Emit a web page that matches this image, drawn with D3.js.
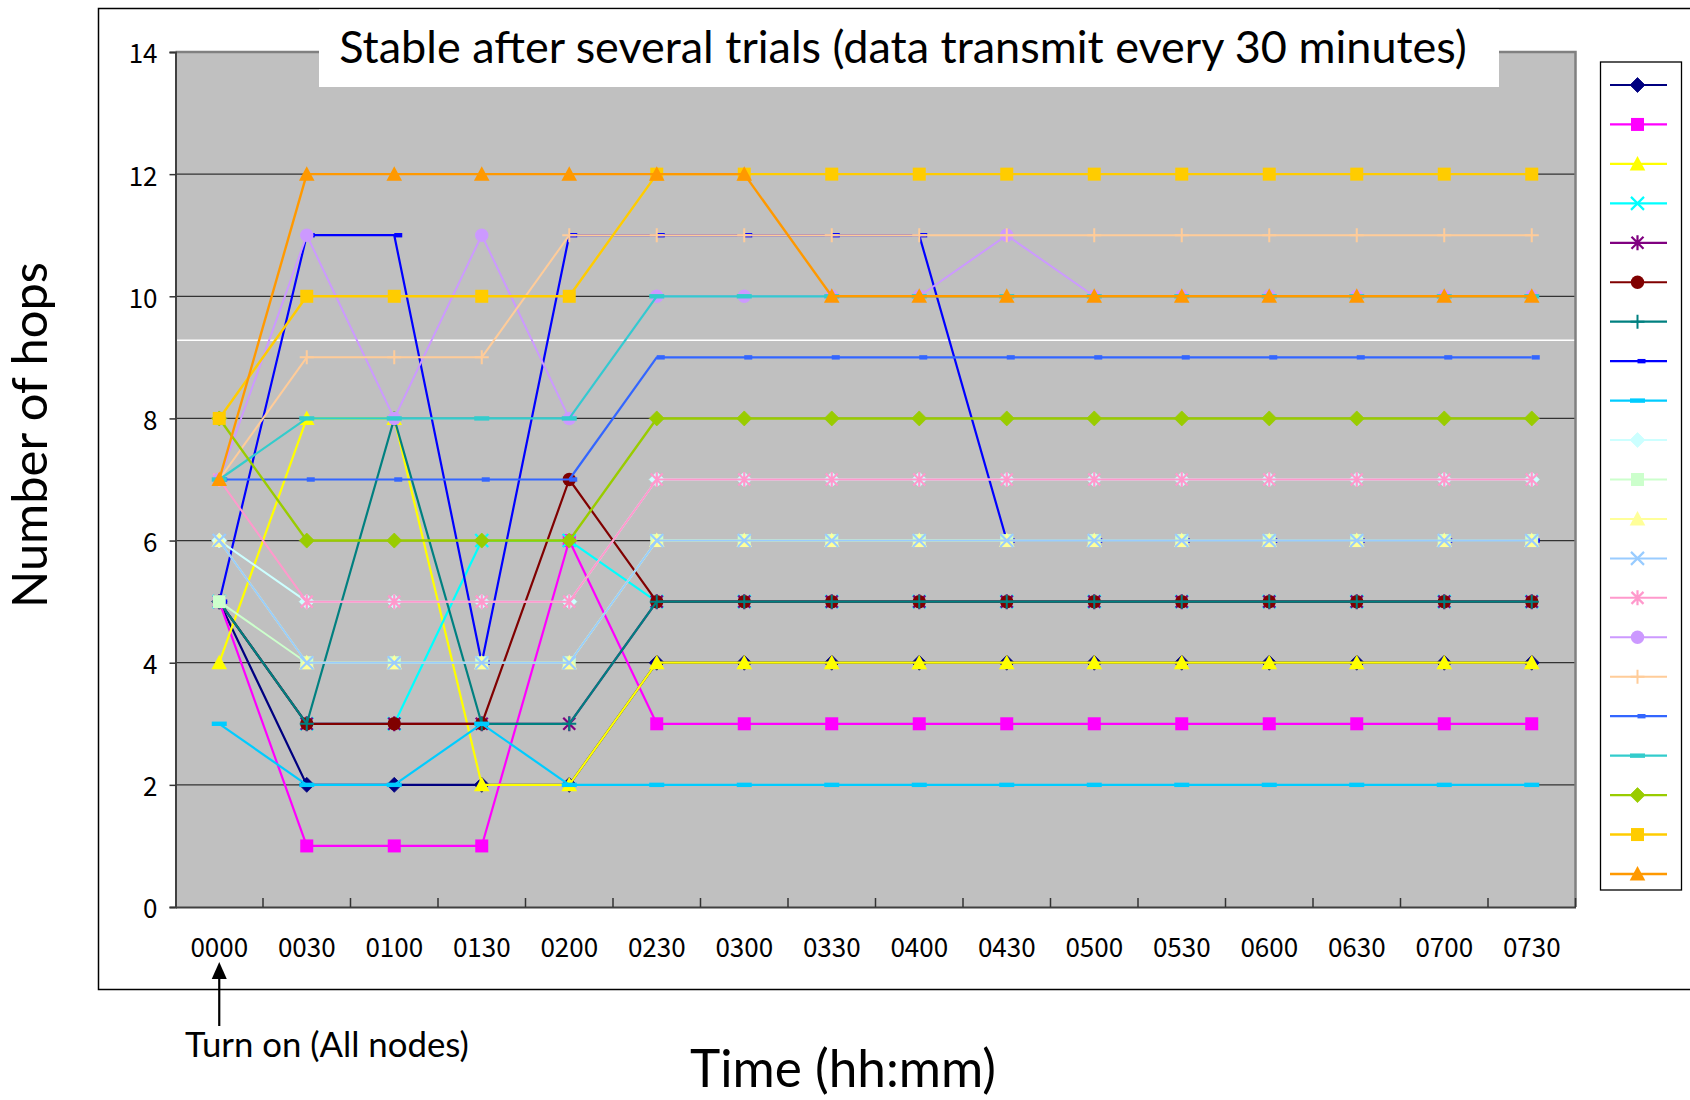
<!DOCTYPE html>
<html>
<head>
<meta charset="utf-8">
<script src="https://cdn.jsdelivr.net/npm/d3@7"></script>
<style>
  html, body { margin: 0; padding: 0; background: #ffffff; }
  svg { display: block; }
</style>
</head>
<body>
<svg id="chart" width="1690" height="1100"></svg>
<script>
// ---------------- DATA ----------------
const times = ["0000","0030","0100","0130","0200","0230","0300","0330","0400","0430","0500","0530","0600","0630","0700","0730"];
const yTicks = [0, 2, 4, 6, 8, 10, 12, 14];

const node01 = [5,2,2,2,2,4,4,4,4,4,4,4,4,4,4,4];
const node02 = [5,1,1,1,6,3,3,3,3,3,3,3,3,3,3,3];
const node03 = [4,8,8,2,2,4,4,4,4,4,4,4,4,4,4,4];
const node04 = [5,3,3,6,6,5,5,5,5,5,5,5,5,5,5,5];
const node05 = [5,3,3,3,3,5,5,5,5,5,5,5,5,5,5,5];
const node06 = [5,3,3,3,7,5,5,5,5,5,5,5,5,5,5,5];
const node07 = [5,3,8,3,3,5,5,5,5,5,5,5,5,5,5,5];
const node08 = [5,11,11,4,11,11,11,11,11,6,6,6,6,6,6,6];
const node09 = [3,2,2,3,2,2,2,2,2,2,2,2,2,2,2,2];
const node10 = [6,5,5,5,5,7,7,7,7,7,7,7,7,7,7,7];
const node11 = [5,4,4,4,4,6,6,6,6,6,6,6,6,6,6,6];
const node12 = [6,4,4,4,4,6,6,6,6,6,6,6,6,6,6,6];
const node13 = [6,4,4,4,4,6,6,6,6,6,6,6,6,6,6,6];
const node14 = [7,5,5,5,5,7,7,7,7,7,7,7,7,7,7,7];
const node15 = [7,11,8,11,8,10,10,10,10,11,10,10,10,10,10,10];
const node16 = [7,9,9,9,11,11,11,11,11,11,11,11,11,11,11,11];
const node17 = [7,7,7,7,7,9,9,9,9,9,9,9,9,9,9,9];
const node18 = [7,8,8,8,8,10,10,10,10,10,10,10,10,10,10,10];
const node19 = [8,6,6,6,6,8,8,8,8,8,8,8,8,8,8,8];
const node20 = [8,10,10,10,10,12,12,12,12,12,12,12,12,12,12,12];
const node21 = [7,12,12,12,12,12,12,10,10,10,10,10,10,10,10,10];

const whiteRefValue = 9.28;   // thin white horizontal line across the plot

const titleText = "Stable after several trials (data transmit every 30 minutes)";
const yTitle = "Number of hops";
const xTitle = "Time (hh:mm)";
const noteText = "Turn on (All nodes)";

// ---------------- STYLES ----------------
const seriesValues = [node01,node02,node03,node04,node05,node06,node07,node08,node09,node10,
                      node11,node12,node13,node14,node15,node16,node17,node18,node19,node20,node21];
const seriesColors = ["#000080","#FF00FF","#FFFF00","#00FFFF","#800080","#800000","#008080","#0000FF","#00CCFF",
                      "#CCFFFF","#CCFFCC","#FFFF99","#99CCFF","#FF99CC","#CC99FF","#FFCC99","#3366FF","#33CCCC",
                      "#99CC00","#FFCC00","#FF9900"];
const seriesMarkers = ["diamond","square","triangle","x","star","circle","plus","dash","longdash",
                       "diamond","square","triangle","x","star","circle","plus","dash","longdash",
                       "diamond","square","triangle"];
const seriesWidths = [2.2,2.2,2.2,2.2,2.2,2.2,2.2,2.2,2.2, 2,2,2,2,2,2,2, 2.2,2.2,2.4,2.4,2.4];

// ---------------- LAYOUT ----------------
const svg = d3.select("#chart");
const plot = {left: 175.5, right: 1575.5, top: 52, bottom: 907};

const x = d3.scaleBand().domain(times).range([plot.left, plot.right]).padding(0);
const cx = d => x(d) + x.bandwidth() / 2;
const y = d3.scaleLinear().domain([0, 14]).range([plot.bottom, plot.top]);

function fitText(sel, target) {
  const w = sel.node().getComputedTextLength();
  const fs = parseFloat(sel.attr("font-size"));
  sel.attr("font-size", fs * target / w);
}

// outer frame
svg.append("rect")
  .attr("x", 98.5).attr("y", 8.5)
  .attr("width", 1700).attr("height", 981)
  .attr("fill", "#ffffff").attr("stroke", "#000").attr("stroke-width", 1.5);

// plot background
svg.append("rect")
  .attr("x", plot.left).attr("y", plot.top)
  .attr("width", plot.right - plot.left).attr("height", plot.bottom - plot.top)
  .attr("fill", "#C0C0C0");

// gridlines
svg.append("g").selectAll("line")
  .data(yTicks.filter(v => v > 0 && v < 14))
  .join("line")
  .attr("x1", plot.left).attr("x2", plot.right)
  .attr("y1", d => y(d)).attr("y2", d => y(d))
  .attr("stroke", "#333").attr("stroke-width", 1.3);

// white reference line
svg.append("line")
  .attr("x1", plot.left).attr("x2", plot.right)
  .attr("y1", y(whiteRefValue)).attr("y2", y(whiteRefValue))
  .attr("stroke", "#ffffff").attr("stroke-width", 1.5);

// plot border (top/right gray)
svg.append("path")
  .attr("d", `M${plot.left},${plot.top}H${plot.right}V${plot.bottom}`)
  .attr("fill", "none").attr("stroke", "#808080").attr("stroke-width", 2.5);

// y axis
const yAxis = d3.axisLeft(y).tickValues(yTicks).tickSize(6).tickPadding(12).tickFormat(d3.format("d"));
const gy = svg.append("g").attr("transform", `translate(${plot.left},0)`).call(yAxis);
gy.select(".domain").attr("stroke", "#404040").attr("stroke-width", 2);
gy.selectAll(".tick line").attr("stroke", "#333").attr("stroke-width", 1.5);
gy.selectAll(".tick text")
  .attr("font-family", "'Noto Sans CJK JP', 'Liberation Sans', sans-serif")
  .attr("font-size", 26).attr("fill", "#000").attr("dy", "0.42em");

// x axis: labels at category centres, ticks at category boundaries
const xAxis = d3.axisBottom(x).tickSize(0).tickPadding(32);
const gx = svg.append("g").attr("transform", `translate(0,${plot.bottom})`).call(xAxis);
gx.select(".domain").attr("stroke", "#404040").attr("stroke-width", 2);
gx.selectAll(".tick text")
  .attr("font-family", "'Noto Sans CJK JP', 'Liberation Sans', sans-serif")
  .attr("font-size", 26).attr("fill", "#000");
svg.append("g").selectAll("line")
  .data(times.slice(1).concat(["__end"]))
  .join("line")
  .attr("x1", d => d === "__end" ? plot.right : x(d))
  .attr("x2", d => d === "__end" ? plot.right : x(d))
  .attr("y1", plot.bottom).attr("y2", plot.bottom - 9)
  .attr("stroke", "#333").attr("stroke-width", 1.5);

// marker drawing
function drawMarker(g, type, color) {
  switch (type) {
    case "diamond":
      g.append("path").attr("d", "M0,-7.5L7.5,0L0,7.5L-7.5,0Z").attr("fill", color).attr("stroke", color).attr("stroke-width", 0.8); break;
    case "square":
      g.append("rect").attr("x", -6.5).attr("y", -6.5).attr("width", 13).attr("height", 13).attr("fill", color); break;
    case "triangle":
      g.append("path").attr("d", "M0,-8L7.8,6.5L-7.8,6.5Z").attr("fill", color); break;
    case "x":
      g.append("path").attr("d", "M-6.5,-6.5L6.5,6.5M-6.5,6.5L6.5,-6.5").attr("stroke", color).attr("stroke-width", 2.2).attr("fill", "none"); break;
    case "star":
      g.append("path").attr("d", "M-6,-6L6,6M-6,6L6,-6M0,-7.5L0,7.5").attr("stroke", color).attr("stroke-width", 2.2).attr("fill", "none"); break;
    case "circle":
      g.append("circle").attr("r", 6.7).attr("fill", color); break;
    case "plus":
      g.append("path").attr("d", "M0,-7L0,7M-7,0L7,0").attr("stroke", color).attr("stroke-width", 2).attr("fill", "none"); break;
    case "dash":
      g.append("rect").attr("x", 0).attr("y", -2.2).attr("width", 8).attr("height", 4.4).attr("fill", color); break;
    case "longdash":
      g.append("rect").attr("x", -7.5).attr("y", -2.2).attr("width", 15).attr("height", 4.4).attr("fill", color); break;
  }
}

// series
const line = d3.line().x((d, i) => cx(times[i])).y(d => y(d));
seriesValues.forEach((vals, s) => {
  const g = svg.append("g");
  g.append("path").datum(vals)
    .attr("d", line)
    .attr("fill", "none")
    .attr("stroke", seriesColors[s])
    .attr("stroke-width", seriesWidths[s])
    .attr("stroke-linejoin", "round");
  vals.forEach((v, i) => {
    const mg = g.append("g").attr("transform", `translate(${cx(times[i])},${y(v)})`);
    drawMarker(mg, seriesMarkers[s], seriesColors[s]);
  });
});

// title box + title
svg.append("rect")
  .attr("x", 319).attr("y", 9.5).attr("width", 1180).attr("height", 77.5)
  .attr("fill", "#ffffff");
const tt = svg.append("text")
  .attr("x", 903).attr("y", 63)
  .attr("text-anchor", "middle")
  .attr("font-family", "Lato, 'Open Sans', sans-serif")
  .attr("font-size", 40).attr("fill", "#000")
  .text(titleText);
fitText(tt, 1128);

// legend
const legend = svg.append("g");
legend.append("rect")
  .attr("x", 1600.5).attr("y", 62).attr("width", 81).attr("height", 828)
  .attr("fill", "#ffffff").attr("stroke", "#000").attr("stroke-width", 1.3);
const legStep = (874 - 85) / (seriesValues.length - 1);
seriesValues.forEach((vals, s) => {
  const ly = 85 + s * legStep;
  legend.append("line")
    .attr("x1", 1610).attr("x2", 1667).attr("y1", ly).attr("y2", ly)
    .attr("stroke", seriesColors[s]).attr("stroke-width", seriesWidths[s]);
  const mg = legend.append("g").attr("transform", `translate(1637.5,${ly})`);
  drawMarker(mg, seriesMarkers[s], seriesColors[s]);
});

// y title
const yt = svg.append("text")
  .attr("transform", "translate(47,435) rotate(-90)")
  .attr("text-anchor", "middle")
  .attr("font-family", "Lato, 'Open Sans', sans-serif")
  .attr("font-size", 46).attr("fill", "#000")
  .text(yTitle);
fitText(yt, 346);

// x title
const xt = svg.append("text")
  .attr("x", 843).attr("y", 1087)
  .attr("text-anchor", "middle")
  .attr("font-family", "Lato, 'Open Sans', sans-serif")
  .attr("font-size", 46).attr("fill", "#000")
  .text(xTitle);
fitText(xt, 306);

// annotation
const nt = svg.append("text")
  .attr("x", 185).attr("y", 1057)
  .attr("font-family", "Lato, 'Open Sans', sans-serif")
  .attr("font-size", 32).attr("fill", "#000")
  .text(noteText);
fitText(nt, 284);

const ax = cx(times[0]);
svg.append("line")
  .attr("x1", ax).attr("x2", ax).attr("y1", 1026).attr("y2", 975)
  .attr("stroke", "#000").attr("stroke-width", 2.2);
svg.append("path")
  .attr("d", `M${ax},962L${ax + 7.5},979L${ax - 7.5},979Z`)
  .attr("fill", "#000");
</script>
</body>
</html>
